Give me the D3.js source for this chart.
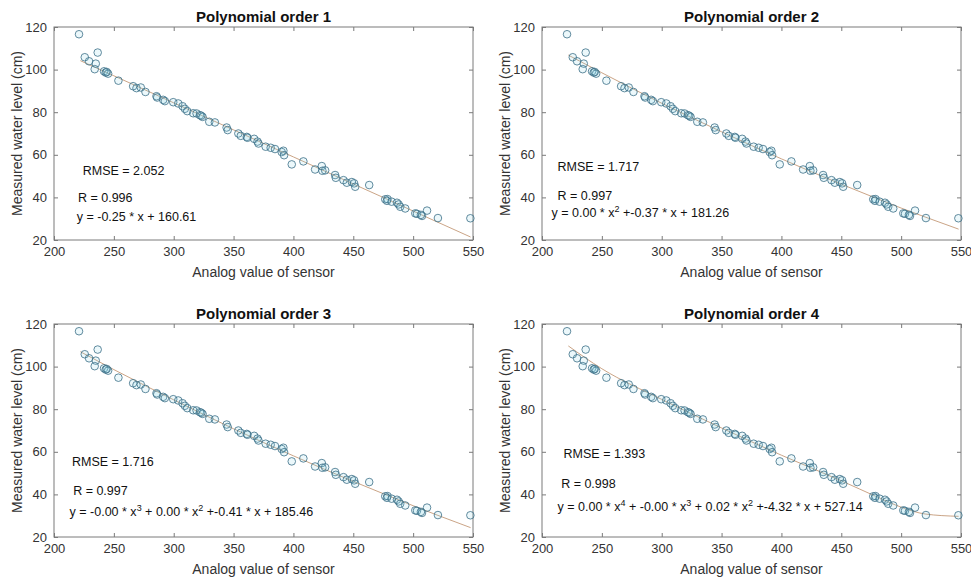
<!DOCTYPE html>
<html>
<head>
<meta charset="utf-8">
<script src="https://cdn.jsdelivr.net/npm/d3@7"></script>
<style>
  body { margin: 0; background: #fff; }
  svg { font-family: "Liberation Sans", Arial, sans-serif; }
</style>
</head>
<body>
<svg id="chart" width="971" height="579"></svg>
<script>
// measured points (same in every panel)
var sensorX = [220.9, 225.7, 229.3, 234.9, 234.0, 236.5, 241.8, 243.2, 245.2, 244.0,
  253.8, 266.1, 268.9, 272.5, 276.4, 285.6, 286.2, 291.2, 292.6, 299.6,
  303.8, 307.4, 309.3, 311.3, 316.3, 319.1, 321.9, 324.1, 323.0, 329.7,
  334.4, 344.2, 345.1, 354.0, 356.0, 361.0, 361.6, 367.2, 370.0, 370.8,
  376.8, 381.0, 384.6, 390.2, 391.6, 392.2, 398.6, 408.3, 418.1, 423.7,
  424.2, 426.5, 434.8, 435.4, 441.8, 444.6, 448.8, 450.7, 451.6, 463.3,
  476.7, 478.6, 478.1, 482.0, 486.5, 487.9, 489.2, 493.4, 501.8, 503.2,
  507.4, 506.5, 511.6, 520.7, 547.8];
var waterLevel = [116.6, 105.8, 103.9, 102.8, 100.2, 108.0, 99.2, 98.6, 98.1, 98.9,
  94.8, 92.2, 91.3, 91.6, 89.5, 87.5, 86.9, 85.8, 85.2, 84.7,
  84.1, 82.8, 81.6, 80.5, 79.5, 79.4, 78.6, 77.8, 78.3, 75.5,
  75.2, 72.8, 71.6, 70.0, 68.9, 68.4, 68.0, 67.5, 66.2, 65.3,
  63.8, 63.3, 62.7, 61.3, 61.9, 59.8, 55.5, 56.9, 53.1, 54.7,
  52.5, 52.7, 50.5, 49.2, 48.1, 46.9, 47.2, 46.6, 45.0, 45.8,
  39.1, 39.2, 38.4, 38.0, 37.5, 36.7, 35.6, 34.8, 32.5, 32.3,
  31.3, 31.8, 33.8, 30.3, 30.2];

// fitted curves
var fitX = [222, 250, 300, 350, 400, 450, 480, 500, 520, 548];
var fit1 = [104.2, 97.1, 84.4, 71.7, 59.0, 46.3, 38.7, 33.6, 28.5, 21.4];
var fit2 = [106.8, 98.5, 84.2, 70.8, 58.1, 46.2, 39.4, 35.0, 30.8, 25.1];
var fit3 = [107.0, 98.6, 84.4, 70.8, 58.1, 46.1, 39.2, 34.7, 30.3, 24.4];
var fit4 = [109.7, 99.0, 84.6, 71.2, 58.4, 46.4, 38.8, 34.0, 30.8, 29.7];

var titles = ["Polynomial order 1", "Polynomial order 2", "Polynomial order 3", "Polynomial order 4"];
var rmseText = ["RMSE = 2.052", "RMSE = 1.717", "RMSE = 1.716", "RMSE = 1.393"];
var rText = ["R = 0.996", "R = 0.997", "R = 0.997", "R = 0.998"];
var eqText = ["y = -0.25 * x + 160.61",
  "y = 0.00 * x^2 +-0.37 * x + 181.26",
  "y = -0.00 * x^3 + 0.00 * x^2 +-0.41 * x + 185.46",
  "y = 0.00 * x^4 + -0.00 * x^3 + 0.02 * x^2 +-4.32 * x + 527.14"];
var xTicks = [200, 250, 300, 350, 400, 450, 500, 550];
var yTicks = [20, 40, 60, 80, 100, 120];

// text anchor points in data units [rmse, r, eq]
var labelPos = [
  [[224, 52.4], [220, 39.7], [219, 29.0]],
  [[213, 54.3], [213, 41.0], [208, 31.0]],
  [[215, 55.2], [216, 42.0], [213, 30.0]],
  [[218, 59.0], [216, 45.0], [213, 32.0]]
];
var fits = [fit1, fit2, fit3, fit4];
var origins = [[54, 27], [542, 27], [54, 324], [542, 324]];
var W = 419, H = 213;

var svg = d3.select("#chart");
var points = sensorX.map(function (x, i) { return [x, waterLevel[i]]; });

function drawPanel(k) {
    var g = svg.append("g").attr("transform", "translate(" + origins[k][0] + "," + origins[k][1] + ")");
    var x = d3.scaleLinear().domain([200, 550]).range([0, W]);
    var y = d3.scaleLinear().domain([20, 120]).range([H, 0]);

    // ticks on all four sides, pointing inward
    g.append("g").attr("transform", "translate(0," + H + ")")
        .call(d3.axisBottom(x).tickValues(xTicks).tickSizeInner(-4).tickSizeOuter(0).tickPadding(7));
    g.append("g")
        .call(d3.axisTop(x).tickValues(xTicks).tickSizeInner(-4).tickSizeOuter(0).tickFormat(""));
    g.append("g")
        .call(d3.axisLeft(y).tickValues(yTicks).tickSizeInner(-4).tickSizeOuter(0).tickPadding(7));
    g.append("g").attr("transform", "translate(" + W + ",0)")
        .call(d3.axisRight(y).tickValues(yTicks).tickSizeInner(-4).tickSizeOuter(0).tickFormat(""));
    g.selectAll(".domain").remove();
    g.selectAll(".tick line").attr("stroke", "#7a7a7a");
    g.selectAll(".tick text").attr("fill", "#333").style("font-size", "13px")
        .style("font-family", "'Liberation Sans', Arial, sans-serif");

    g.append("rect").attr("width", W).attr("height", H)
        .attr("fill", "none").attr("stroke", "#7a7a7a").attr("stroke-width", 1);

    var line = d3.line()
        .x(function (d, i) { return x(fitX[i]); })
        .y(function (d) { return y(d); })
        .curve(d3.curveMonotoneX);
    g.append("path").datum(fits[k]).attr("d", line)
        .attr("fill", "none").attr("stroke", "#c49a78").attr("stroke-width", 0.9);

    g.selectAll("circle").data(points).enter().append("circle")
        .attr("cx", function (d) { return x(d[0]); })
        .attr("cy", function (d) { return y(d[1]); })
        .attr("r", 3.8)
        .attr("fill", "rgba(130,205,230,0.15)")
        .attr("stroke", "#3b6f86").attr("stroke-width", 0.8);

    g.append("text").attr("x", W / 2).attr("y", -5).attr("text-anchor", "middle")
        .style("font-size", "15px").style("font-weight", "bold").attr("fill", "#111")
        .text(titles[k]);
    g.append("text").attr("x", W / 2).attr("y", H + 37).attr("text-anchor", "middle")
        .style("font-size", "14px").attr("fill", "#333").text("Analog value of sensor");
    g.append("text").attr("transform", "translate(-32," + (H / 2) + ") rotate(-90)")
        .attr("text-anchor", "middle").style("font-size", "14px").attr("fill", "#333")
        .text("Measured water level (cm)");

    var pos = labelPos[k];
    [rmseText[k], rText[k]].forEach(function (t, j) {
        g.append("text").attr("x", x(pos[j][0])).attr("y", y(pos[j][1]))
            .attr("dy", "0.35em").style("font-size", "12.5px").attr("fill", "#111").text(t);
    });
    var eq = g.append("text").attr("x", x(pos[2][0])).attr("y", y(pos[2][1]))
        .attr("dy", "0.35em").style("font-size", "12.5px").attr("fill", "#111");
    eqText[k].split(/\^(\d)/).forEach(function (part, j) {
        if (j % 2 === 1) {
            eq.append("tspan").attr("dy", "-5").style("font-size", "9px").text(part);
        } else {
            eq.append("tspan").attr("dy", j === 0 ? "0" : "5").text(part);
        }
    });
}

for (var k = 0; k < 4; k++) drawPanel(k);
</script>
</body>
</html>
